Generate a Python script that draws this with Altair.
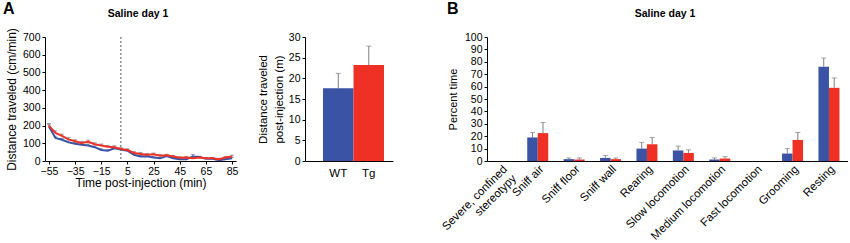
import altair as alt
import pandas as pd

# ---------------- data ----------------
times = [-55, -50, -45, -40, -35, -30, -25, -20, -15, -10, -5, 0, 5, 10, 15,
         20, 25, 30, 35, 40, 45, 50, 55, 60, 65, 70, 75, 80, 85]
wt_dist = [195, 130, 120, 105, 97, 92, 88, 78, 62, 58, 72, 65, 58, 35, 25,
           27, 20, 15, 28, 15, 10, 10, 25, 22, 12, 12, 5, 10, 15]
tg_dist = [200, 158, 142, 122, 112, 102, 108, 95, 88, 80, 78, 68, 62, 45, 40,
           35, 38, 30, 32, 25, 18, 20, 15, 20, 15, 15, 10, 20, 25]
wt_sem = [10, 10, 8, 8, 8, 7, 8, 7, 7, 6, 6, 6, 6, 6, 6,
          5, 5, 5, 5, 5, 5, 5, 12, 5, 5, 5, 4, 5, 5]
tg_sem = [12, 12, 10, 10, 8, 8, 10, 8, 8, 8, 8, 7, 7, 8, 8,
          7, 7, 7, 6, 6, 6, 6, 6, 5, 5, 5, 5, 6, 8]

groups = ["WT", "Tg"]
post_mean = [17.6, 23.2]
post_sem = [3.6, 4.6]

behaviors = ["Severe, confined stereotypy", "Sniff air", "Sniff floor", "Sniff wall",
             "Rearing", "Slow locomotion", "Medium locomotion", "Fast locomotion",
             "Grooming", "Resting"]
wt_pct = [0, 19, 1.5, 2.5, 10, 8.5, 1.2, 0, 6, 76]
tg_pct = [0, 22.5, 1.2, 1.5, 13.5, 6.5, 2, 0, 17, 59]
wt_pct_sem = [0, 4, 1, 2, 5, 3.5, 1.3, 0, 4, 7]
tg_pct_sem = [0, 8.5, 1.3, 1, 5.5, 2.5, 1.5, 0, 6, 8]

BLUE = "#3A53A4"
RED = "#EE3124"
GRAY = "#808080"
FONT = "Liberation Sans"

color_scale = alt.Scale(domain=groups, range=[BLUE, RED])

# ---------------- panel A: time course ----------------
rows = []
for i, t in enumerate(times):
    rows.append({"time": t, "group": "WT", "value": wt_dist[i], "upper": wt_dist[i] + wt_sem[i]})
    rows.append({"time": t, "group": "Tg", "value": tg_dist[i], "upper": tg_dist[i] + tg_sem[i]})
df_line = pd.DataFrame(rows)

axA_x = alt.Axis(values=[-55, -35, -15, 5, 25, 45, 65, 85], labelOverlap=False,
                 title="Time post-injection (min)", tickSize=3, titlePadding=1,
                 titleFontSize=12)
axA_y = alt.Axis(values=list(range(0, 701, 100)), labelOverlap=False,
                 title="Distance traveled (cm/min)", titleFontSize=12,
                 tickSize=3, titlePadding=4)
scA_x = alt.Scale(domain=[-58, 88], nice=False, zero=False)
scA_y = alt.Scale(domain=[0, 700], nice=False)
xA = alt.X("time:Q", scale=scA_x, axis=axA_x)
yA = alt.Y("value:Q", scale=scA_y, axis=axA_y)

baseA = alt.Chart(df_line)
err_rule = baseA.mark_rule(color=GRAY, strokeWidth=1).encode(x=xA, y=yA, y2="upper:Q")
err_cap = baseA.mark_tick(color=GRAY, orient="horizontal", size=4, thickness=1).encode(
    x=xA, y=alt.Y("upper:Q", scale=scA_y, axis=axA_y))
lines = baseA.mark_line(strokeWidth=2).encode(
    x=xA, y=yA,
    color=alt.Color("group:N", scale=color_scale, legend=None),
    order=alt.Order("time:Q"))
dash = alt.Chart(pd.DataFrame({"t": [0]})).mark_rule(
    strokeDash=[2, 2], color="#555555", strokeWidth=1).encode(
    x=alt.X("t:Q", scale=scA_x, axis=axA_x))
letterA = alt.Chart(pd.DataFrame({"s": ["A"]})).mark_text(
    font=FONT, fontSize=16, fontWeight="bold", align="left", baseline="alphabetic").encode(
    text="s:N", x=alt.value(-42), y=alt.value(-23))
titleA = alt.Chart(pd.DataFrame({"s": ["Saline day 1"]})).mark_text(
    font=FONT, fontSize=10.5, fontWeight="bold", align="center", baseline="alphabetic").encode(
    text="s:N", x=alt.value(93), y=alt.value(-20.5))

chartA1 = alt.layer(err_rule, err_cap, lines, dash, letterA, titleA).properties(
    width=191, height=124)

# ---------------- panel A: post-injection bars ----------------
df_post = pd.DataFrame({"group": groups, "value": post_mean,
                        "upper": [m + s for m, s in zip(post_mean, post_sem)]})
xA2 = alt.X("group:N", sort=groups,
            scale=alt.Scale(domain=groups, paddingInner=0, paddingOuter=0.443, align=0.667),
            axis=alt.Axis(title=None, ticks=False, labelAngle=0, labelFontSize=11.5,
                          labelPadding=6))
axA2_y = alt.Axis(values=list(range(0, 31, 5)), labelOverlap=False,
                  title=["Distance traveled", "post-injection (m)"],
                  titleFontSize=11.5, titleLineHeight=16, titleAngle=-90,
                  titleX=-42, titleY=62, titleAlign="center", titleBaseline="middle",
                  tickSize=3)
scA2_y = alt.Scale(domain=[0, 30], nice=False)
yA2 = alt.Y("value:Q", scale=scA2_y, axis=axA2_y)
baseA2 = alt.Chart(df_post)
bars2 = baseA2.mark_bar(size=30.5).encode(
    x=xA2, y=yA2, color=alt.Color("group:N", scale=color_scale, legend=None))
err2 = baseA2.mark_rule(color=GRAY, strokeWidth=1).encode(x=xA2, y=yA2, y2="upper:Q")
cap2 = baseA2.mark_tick(color=GRAY, size=5, thickness=1).encode(
    x=xA2, y=alt.Y("upper:Q", scale=scA2_y, axis=axA2_y))
chartA2 = alt.layer(err2, bars2, cap2).properties(width=88, height=124)

# ---------------- panel B ----------------
rowsB = []
for i, b in enumerate(behaviors):
    rowsB.append({"behavior": b, "group": "WT", "value": wt_pct[i], "upper": wt_pct[i] + wt_pct_sem[i]})
    rowsB.append({"behavior": b, "group": "Tg", "value": tg_pct[i], "upper": tg_pct[i] + tg_pct_sem[i]})
dfB = pd.DataFrame(rowsB)
dfB_err = dfB[dfB["upper"] > dfB["value"]]

label_expr = ("datum.value == 'Severe, confined stereotypy' ? "
              "['Severe, confined', 'stereotypy'] : datum.value")
xB = alt.X("behavior:N", sort=behaviors,
           scale=alt.Scale(domain=behaviors, paddingInner=0.423, paddingOuter=0.17, align=0.31),
           axis=alt.Axis(title=None, ticks=False, labelAngle=-45, labelExpr=label_expr,
                         labelFontSize=11.5, labelPadding=2, labelLineHeight=13,
                         labelOverlap=False))
xoff = alt.XOffset("group:N", sort=groups, scale=alt.Scale(domain=groups, paddingInner=0, paddingOuter=0))
axB_y = alt.Axis(values=list(range(0, 101, 10)), labelOverlap=False,
                 title="Percent time", titleFontSize=11,
                 tickSize=3, titlePadding=6)
scB_y = alt.Scale(domain=[0, 100], nice=False)
yB = alt.Y("value:Q", scale=scB_y, axis=axB_y)
barsB = alt.Chart(dfB).mark_bar().encode(
    x=xB, xOffset=xoff, y=yB, color=alt.Color("group:N", scale=color_scale, legend=None))
errB = alt.Chart(dfB_err).mark_rule(color=GRAY, strokeWidth=1).encode(
    x=xB, xOffset=xoff, y=yB, y2="upper:Q")
capB = alt.Chart(dfB_err).mark_tick(color=GRAY, size=5, thickness=1).encode(
    x=xB, xOffset=xoff, y=alt.Y("upper:Q", scale=scB_y, axis=axB_y))
letterB = alt.Chart(pd.DataFrame({"s": ["B"]})).mark_text(
    font=FONT, fontSize=16, fontWeight="bold", align="left", baseline="alphabetic").encode(
    text="s:N", x=alt.value(-40), y=alt.value(-23))
titleB = alt.Chart(pd.DataFrame({"s": ["Saline day 1"]})).mark_text(
    font=FONT, fontSize=10.5, fontWeight="bold", align="center", baseline="alphabetic").encode(
    text="s:N", x=alt.value(178), y=alt.value(-20.5))
chartB = alt.layer(errB, barsB, capB, letterB, titleB).properties(width=361, height=124)


def spacer(w):
    return alt.Chart(pd.DataFrame({"a": [0]})).mark_point(opacity=0).encode(
        x=alt.value(0), y=alt.value(0)).properties(width=w, height=124)


# ---------------- compose ----------------
chart = alt.hconcat(chartA1, spacer(69), chartA2, spacer(94), chartB,
                    spacing=0, bounds="flush").resolve_scale(
    x="independent", y="independent"
).properties(
    padding={"left": 3, "top": 1, "right": 0, "bottom": 0}
).configure_view(stroke=None).configure_axis(
    labelFont=FONT, titleFont=FONT, labelFontSize=10.5, titleFontSize=12,
    titleFontWeight="normal", labelColor="black", titleColor="black",
    domainColor="black", tickColor="black", grid=False, domainWidth=1,
    labelOverlap=False, labelBound=False, labelFlush=False
)

chart.save("out.html", embed_options={"renderer": "svg", "actions": False})
